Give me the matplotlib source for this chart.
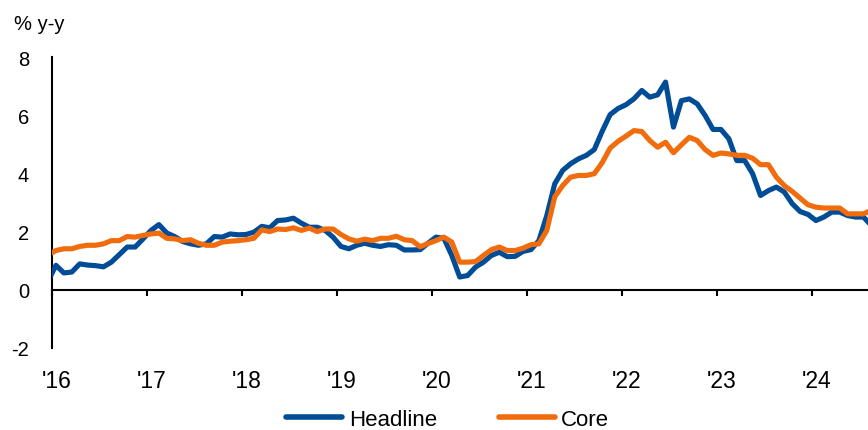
import matplotlib
matplotlib.use("Agg")
import matplotlib.pyplot as plt
import matplotlib.transforms as mtransforms
import numpy as np

plt.rcParams["font.family"] = ["Liberation Sans", "DejaVu Sans"]

# Monthly year-over-year inflation, Dec 2015 through Aug 2024
first_month = (2015, 12)
headline = [
    0.30,
    0.84, 0.58, 0.61, 0.89, 0.85, 0.83, 0.79, 0.95, 1.21, 1.47, 1.47, 1.75,   # 2016
    2.04, 2.24, 1.95, 1.83, 1.66, 1.58, 1.53, 1.58, 1.83, 1.81, 1.92, 1.89,   # 2017
    1.90, 1.98, 2.18, 2.13, 2.38, 2.40, 2.46, 2.29, 2.15, 2.15, 2.04, 1.81,   # 2018
    1.49, 1.41, 1.53, 1.60, 1.53, 1.49, 1.55, 1.53, 1.37, 1.37, 1.38, 1.60,   # 2019
    1.81, 1.77, 1.18, 0.44, 0.49, 0.78, 0.95, 1.18, 1.29, 1.14, 1.15, 1.32,   # 2020
    1.38, 1.69, 2.55, 3.64, 4.10, 4.33, 4.50, 4.62, 4.82, 5.45, 6.02, 6.23,   # 2021
    6.36, 6.56, 6.85, 6.62, 6.70, 7.14, 5.59, 6.50, 6.56, 6.39, 5.99, 5.51,   # 2022
    5.51, 5.19, 4.44, 4.44, 3.99, 3.24, 3.41, 3.53, 3.36, 2.96, 2.69, 2.59,   # 2023
    2.38, 2.50, 2.67, 2.67, 2.55, 2.50, 2.50, 2.21,                           # 2024
]
core = [
    1.20,
    1.35, 1.41, 1.41, 1.49, 1.53, 1.53, 1.58, 1.69, 1.69, 1.83, 1.81, 1.87,   # 2016
    1.92, 1.95, 1.77, 1.75, 1.69, 1.72, 1.60, 1.53, 1.53, 1.64, 1.67, 1.69,   # 2017
    1.72, 1.77, 2.06, 2.00, 2.09, 2.07, 2.13, 2.04, 2.12, 2.00, 2.09, 2.09,   # 2018
    1.90, 1.75, 1.67, 1.74, 1.69, 1.77, 1.77, 1.84, 1.72, 1.69, 1.48, 1.59,   # 2019
    1.69, 1.81, 1.64, 0.95, 0.95, 0.97, 1.18, 1.38, 1.47, 1.35, 1.35, 1.43,   # 2020
    1.55, 1.58, 2.04, 3.19, 3.58, 3.87, 3.93, 3.93, 3.99, 4.37, 4.87, 5.10,   # 2021
    5.28, 5.47, 5.44, 5.13, 4.90, 5.07, 4.71, 4.98, 5.24, 5.13, 4.82, 4.62,   # 2022
    4.70, 4.67, 4.62, 4.62, 4.52, 4.30, 4.30, 3.87, 3.58, 3.38, 3.15, 2.92,   # 2023
    2.84, 2.81, 2.81, 2.81, 2.61, 2.61, 2.61, 2.73,                           # 2024
]
years = list(range(2016, 2025))
year_labels = ["'16", "'17", "'18", "'19", "'20", "'21", "'22", "'23", "'24"]
y_ticks = [-2, 0, 2, 4, 6, 8]
series_names = ["Headline", "Core"]
colors = ["#004C97", "#F06C0C"]

# place each monthly observation at the middle of its month
n = len(headline)
x = first_month[0] + (first_month[1] - 1 + 0.5 + np.arange(n)) / 12.0

W, H = 868, 431
fig = plt.figure(figsize=(W / 100, H / 100), dpi=100)
ax = fig.add_axes([52 / W, (H - 349) / H, (W - 52) / W, (349 - 58) / H])

lw = 3.7
l1, = ax.plot(x, headline, color=colors[0], lw=lw, solid_joinstyle="round",
              label=series_names[0], zorder=3)
l2, = ax.plot(x, core, color=colors[1], lw=lw, solid_joinstyle="round",
              label=series_names[1], zorder=4)

ax.set_xlim(2016, 2016 + (W - 52) / 95.0)
ax.set_ylim(-2, 8)

for s in ("top", "right"):
    ax.spines[s].set_visible(False)
ax.spines["bottom"].set_position(("data", 0))
ax.spines["bottom"].set_linewidth(1.5)
ax.spines["left"].set_linewidth(1.5)
ax.spines["bottom"].set_zorder(2)

ax.set_yticks(y_ticks)
ax.set_yticklabels([str(v) for v in y_ticks], fontsize=14.5)
ax.tick_params(axis="y", length=0, pad=16.5)

ax.set_xticks(years)
ax.tick_params(axis="x", direction="out", length=4.5, width=1.5,
               labelbottom=False)

# year labels below the plotting area
offset = mtransforms.ScaledTranslation(5 / 100, 0, fig.dpi_scale_trans)
trans = mtransforms.blended_transform_factory(ax.transData, ax.transAxes) + offset
for yr, lab in zip(years, year_labels):
    ax.text(yr, -0.072, lab, transform=trans, ha="center", va="top",
            fontsize=16.5)

fig.text(14 / W, 1 - 24 / H, "% y-y", ha="left", va="center", fontsize=14.5)

leg = fig.legend(handles=[l1, l2], loc="center", bbox_to_anchor=(0.516, 0.0244),
                 ncol=2, frameon=False, fontsize=16, handlelength=2.5,
                 handletextpad=0.3, columnspacing=2.8, borderpad=0,
                 borderaxespad=0)
for h in leg.legend_handles:
    h.set_solid_capstyle("round")
    h.set_linewidth(4)

fig.savefig("out.png", dpi=100)
